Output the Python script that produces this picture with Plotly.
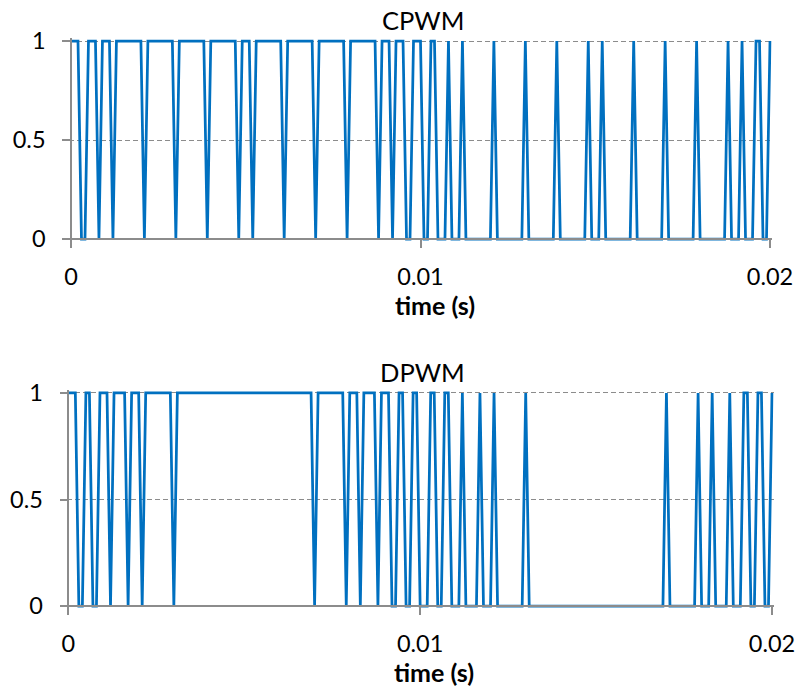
import plotly.graph_objects as go

# ---- data (sample period 0.1 ms, 201 samples) ----
time_s = [round(i * 1e-4, 6) for i in range(201)]

cpwm = [
    1,1,1,0,0,1,1,1,0,1,1,1,0,1,1,1,1,1,1,1,
    1,0,1,1,1,1,1,1,1,1,0,1,1,1,1,1,1,1,1,0,
    1,1,1,1,1,1,1,1,0,1,1,1,0,1,1,1,1,1,1,1,
    1,0,1,1,1,1,1,1,1,1,0,1,1,1,1,1,1,1,1,0,
    1,1,1,1,1,1,1,1,0,1,1,1,0,1,1,1,0,0,1,1,
    1,0,0,1,1,0,0,0,1,0,0,0,1,0,0,0,0,0,0,0,
    0,1,0,0,0,0,0,0,0,0,1,0,0,0,0,0,0,0,0,1,
    0,0,0,0,0,0,0,0,1,0,0,0,1,0,0,0,0,0,0,0,
    0,1,0,0,0,0,0,0,0,0,1,0,0,0,0,0,0,0,0,1,
    0,0,0,0,0,0,0,0,1,0,0,0,1,0,0,0,1,1,0,0,
    1,
]

dpwm = [
    1,1,1,0,0,1,1,0,0,1,1,1,0,1,1,1,1,0,1,1,
    1,0,1,1,1,1,1,1,1,1,0,1,1,1,1,1,1,1,1,1,
    1,1,1,1,1,1,1,1,1,1,1,1,1,1,1,1,1,1,1,1,
    1,1,1,1,1,1,1,1,1,1,0,1,1,1,1,1,1,1,1,0,
    1,1,1,0,1,1,1,1,0,1,1,1,0,0,1,1,0,0,1,1,
    0,0,0,1,1,0,0,1,1,0,0,0,1,0,0,0,0,1,0,0,
    0,1,0,0,0,0,0,0,0,0,1,0,0,0,0,0,0,0,0,0,
    0,0,0,0,0,0,0,0,0,0,0,0,0,0,0,0,0,0,0,0,
    0,0,0,0,0,0,0,0,0,0,1,0,0,0,0,0,0,0,0,1,
    0,0,0,1,0,0,0,0,1,0,0,0,1,1,0,0,1,1,0,0,
    1,
]

x_ticks = [0, 0.01, 0.02]
x_ticktext = ["0", "0.01", "0.02"]
y_ticks = [0, 0.5, 1]
y_ticktext = ["0", "0.5", "1"]

# ---- layout geometry (pixels in a 798x691 page) ----
W, H = 798, 691
XPAD, YPAD = 0.00005, 0.015
X0, X1 = 0.0, 0.02
Y0, Y1 = 0.0, 1.0

def xdom(px0, px1):
    k = (px1 - px0) / (X1 - X0)
    return [(px0 - XPAD * k) / W, (px1 + XPAD * k) / W]

def ydom(py1, py0):
    k = (py0 - py1) / (Y1 - Y0)
    return [1 - (py0 + YPAD * k) / H, 1 - (py1 - YPAD * k) / H]

panels = [
    dict(name="CPWM", y=cpwm, px=(71, 770), py=(41, 239)),
    dict(name="DPWM", y=dpwm, px=(68.3, 772), py=(393, 606)),
]

GRAY = "#8c8c8c"
BLUE = "#0070C0"
FONT = "Lato, 'Open Sans', sans-serif"

fig = go.Figure()
layout = dict(
    width=W, height=H,
    margin=dict(l=0, r=0, t=0, b=0),
    paper_bgcolor="white", plot_bgcolor="white",
    showlegend=False,
    font=dict(family=FONT, size=23.5, color="#000000"),
    annotations=[],
)

for n, p in enumerate(panels, start=1):
    xa = "xaxis" if n == 1 else f"xaxis{n}"
    ya = "yaxis" if n == 1 else f"yaxis{n}"
    xr = "x" if n == 1 else f"x{n}"
    yr = "y" if n == 1 else f"y{n}"
    fig.add_trace(go.Scatter(
        x=time_s, y=p["y"], mode="lines", xaxis=xr, yaxis=yr,
        line=dict(color=BLUE, width=2.75), hoverinfo="skip",
    ))
    layout[xa] = dict(
        domain=xdom(*p["px"]), range=[X0 - XPAD, X1 + XPAD],
        anchor="free", position=1 - p["py"][1] / H,
        showline=True, linecolor=GRAY, linewidth=1.5,
        ticks="outside", ticklen=8, tickwidth=1.5, tickcolor=GRAY,
        tickvals=x_ticks, ticktext=x_ticktext, ticklabelstandoff=9,
        showgrid=False, zeroline=False, automargin=False,
    )
    layout[ya] = dict(
        domain=ydom(*p["py"]), range=[Y0 - YPAD, Y1 + YPAD],
        anchor="free", position=p["px"][0] / W,
        showline=True, linecolor=GRAY, linewidth=1.5,
        ticks="outside", ticklen=8, tickwidth=1.5, tickcolor=GRAY,
        tickvals=y_ticks, ticktext=y_ticktext, ticklabelstandoff=12,
        showgrid=True, gridcolor=GRAY, gridwidth=1, griddash="5px,3px",
        zeroline=False, automargin=False,
    )
    cx = (p["px"][0] + p["px"][1]) / 2
    layout["annotations"].append(dict(
        text=p["name"], xref="paper", yref="paper",
        x=(cx + 2) / W, y=1 - (p["py"][0] - 21) / H,
        xanchor="center", yanchor="middle", showarrow=False,
        font=dict(family=FONT, size=25.5, color="#000000"),
    ))
    layout["annotations"].append(dict(
        text="<b>time (s)</b>", xref="paper", yref="paper",
        x=(cx + 14) / W, y=1 - (p["py"][1] + 66) / H,
        xanchor="center", yanchor="middle", showarrow=False,
        font=dict(family=FONT, size=25, color="#000000"),
    ))

fig.update_layout(**layout)
fig.write_html(
    "out.html",
    config={"displayModeBar": False},
    post_script="document.body.style.margin='0';document.body.style.padding='0';",
)
